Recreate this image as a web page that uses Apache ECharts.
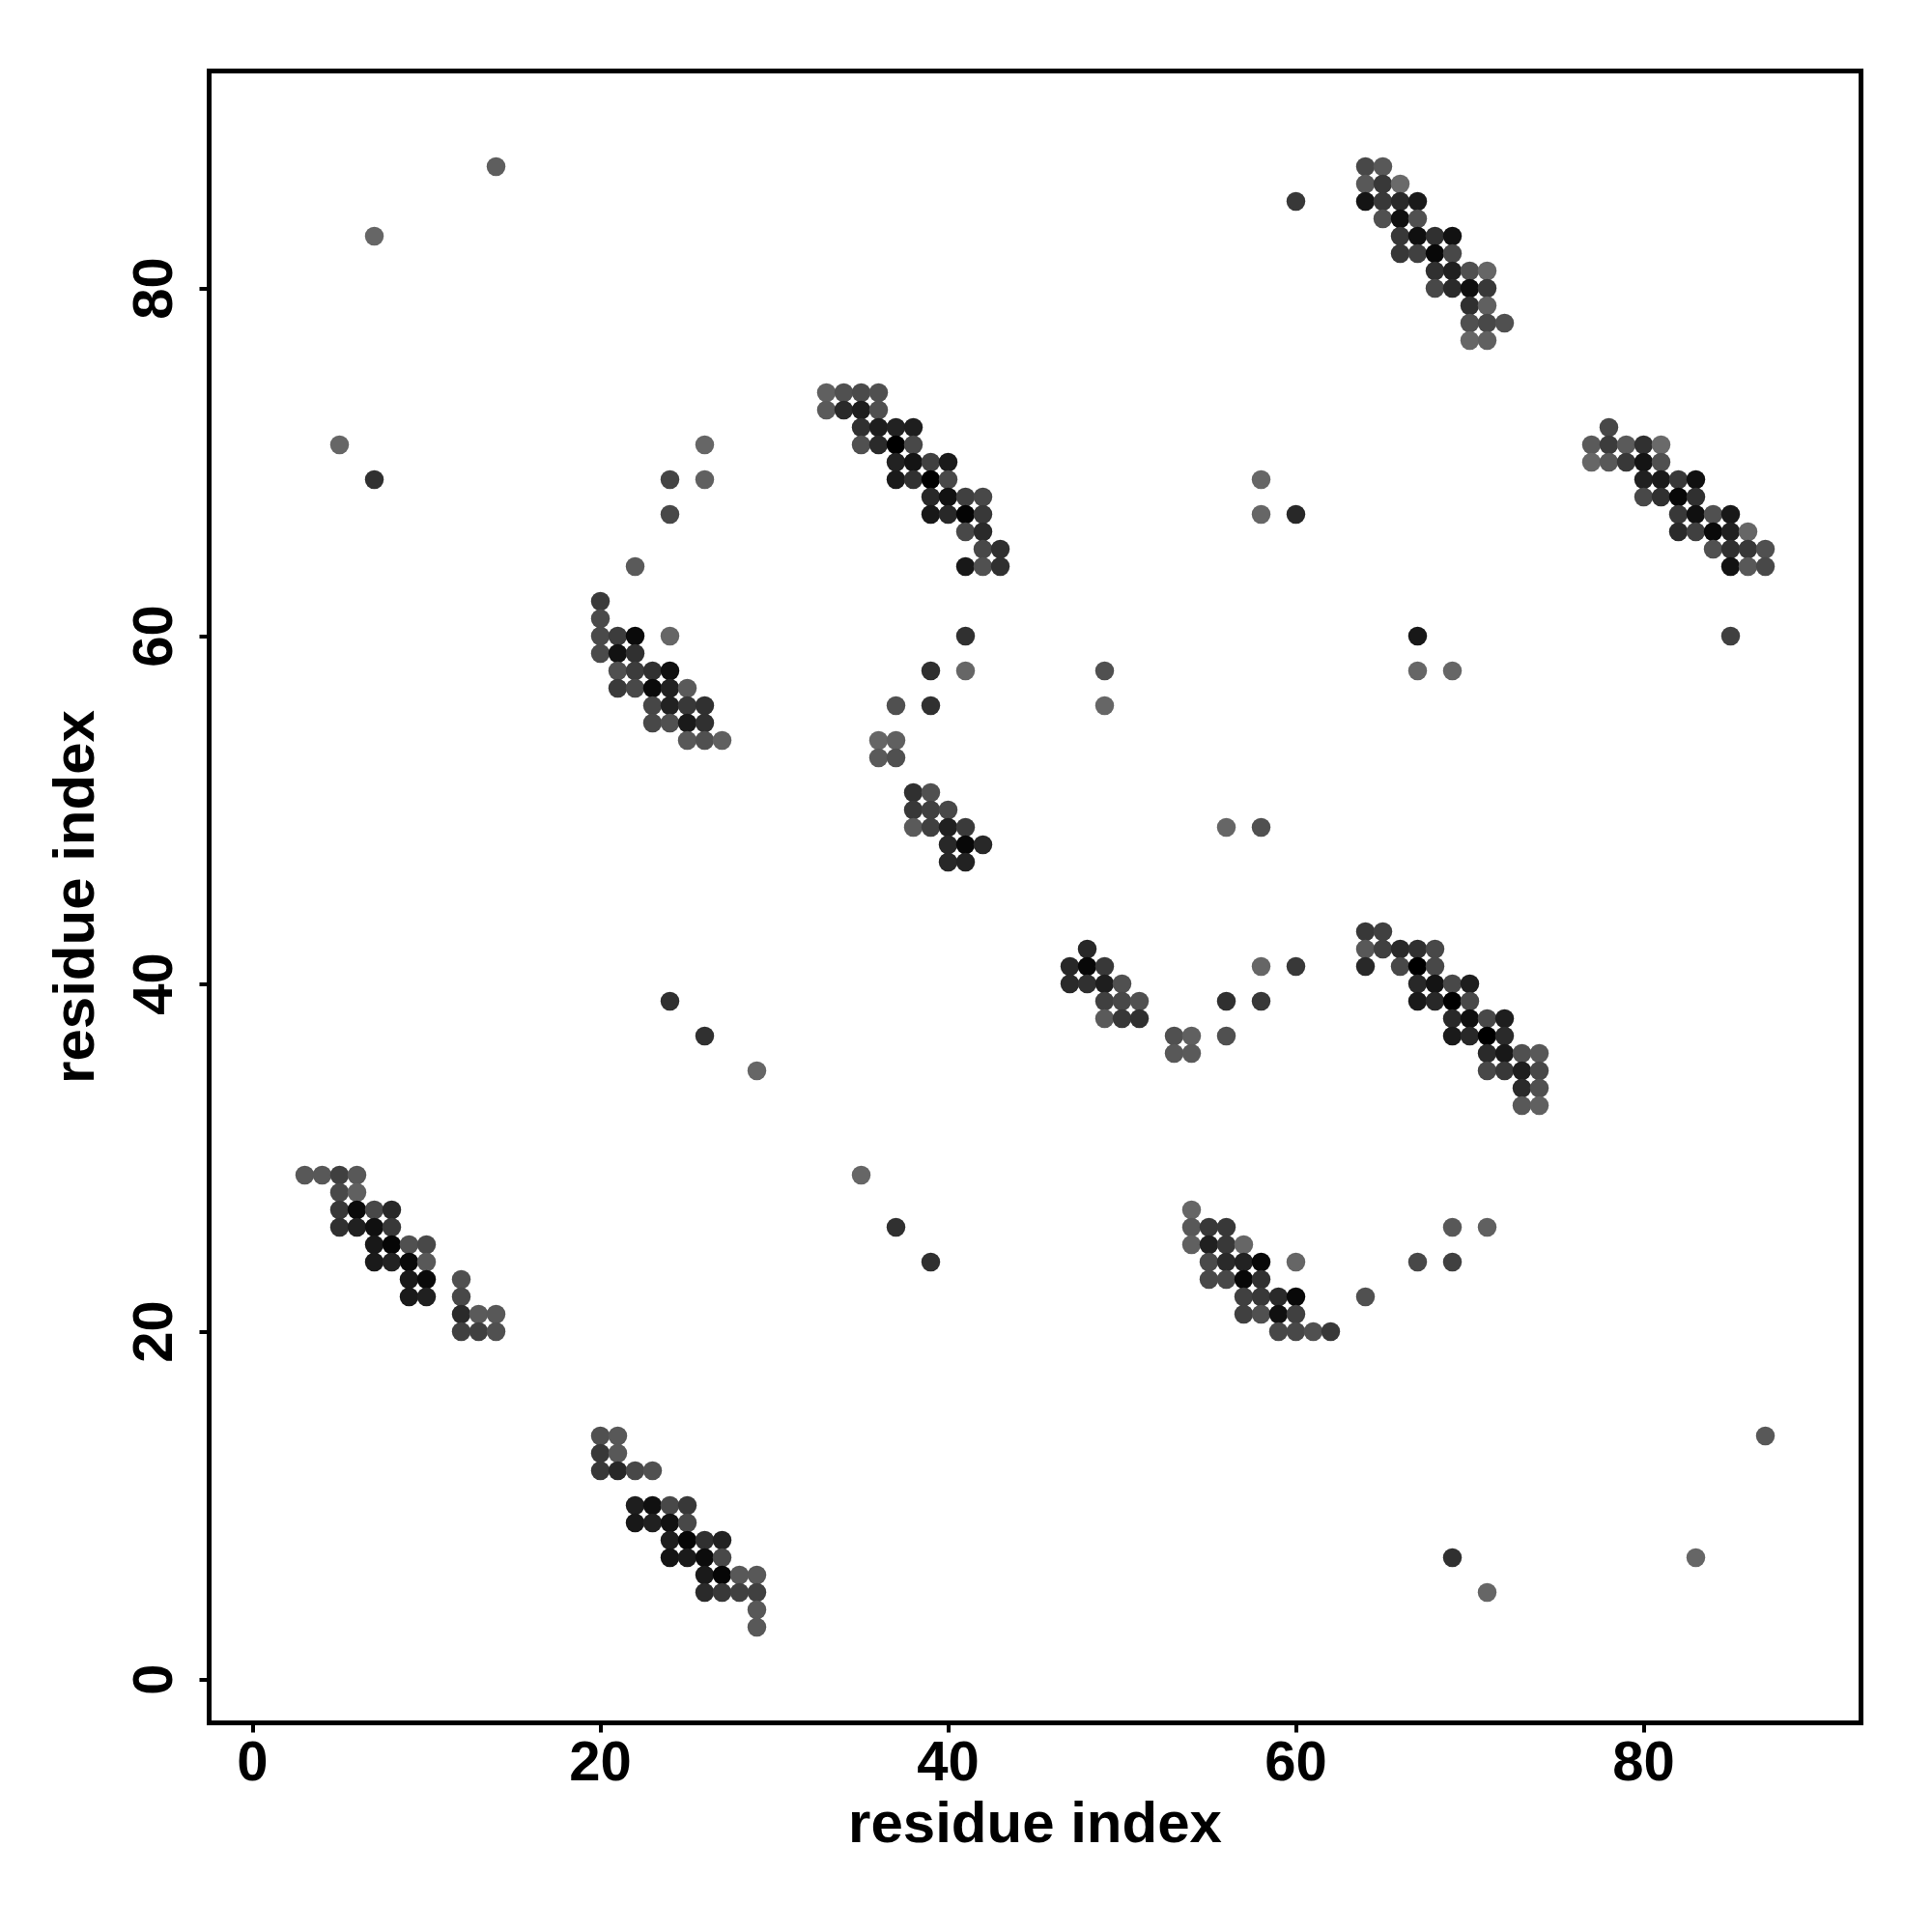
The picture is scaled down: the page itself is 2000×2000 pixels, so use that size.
<!DOCTYPE html>
<html>
<head>
<meta charset="utf-8">
<script src="https://cdn.jsdelivr.net/npm/echarts@6/dist/echarts.min.js"></script>
<style>html,body{margin:0;padding:0;background:#fff;}#c{width:2000px;height:2000px;}</style>
</head>
<body>
<div id="c"></div>
<script>
// Contacts: [residue i, residue j, grey level (0 = black)]
const tickValues = [0, 20, 40, 60, 80];

const clusterA = [
  [20,62,0x3a],[20,61,0x4a],[20,60,0x4a],[21,60,0x3c],[22,60,0x0a],[24,60,0x66],
  [20,59,0x4a],[21,59,0x12],[22,59,0x30],
  [21,58,0x50],[22,58,0x3c],[23,58,0x30],[24,58,0x10],
  [21,57,0x3a],[22,57,0x48],[23,57,0x0a],[24,57,0x22],[25,57,0x5a],
  [23,56,0x46],[24,56,0x22],[25,56,0x38],[26,56,0x30],
  [23,55,0x48],[24,55,0x50],[25,55,0x1a],[26,55,0x30],
  [25,54,0x58],[26,54,0x50],[27,54,0x60]
];
const clusterB = [
  [33,74,0x60],[34,74,0x50],[35,74,0x4a],[36,74,0x50],
  [33,73,0x5a],[34,73,0x2a],[35,73,0x1e],[36,73,0x50],
  [35,72,0x30],[36,72,0x1e],[37,72,0x22],[38,72,0x1e],
  [35,71,0x50],[36,71,0x2a],[37,71,0x00],[38,71,0x48],
  [37,70,0x22],[38,70,0x14],[39,70,0x40],[40,70,0x1a],
  [37,69,0x1a],[38,69,0x30],[39,69,0x00],[40,69,0x48],
  [39,68,0x28],[40,68,0x12],[41,68,0x40],[42,68,0x48],
  [39,67,0x18],[40,67,0x28],[41,67,0x04],[42,67,0x38],
  [41,66,0x48],[42,66,0x2a],
  [42,65,0x48],[43,65,0x30],
  [41,64,0x18],[42,64,0x50],[43,64,0x30]
];
const clusterC = [
  [64,87,0x48],[65,87,0x58],
  [64,86,0x58],[65,86,0x38],[66,86,0x6a],
  [64,85,0x14],[65,85,0x38],[66,85,0x28],[67,85,0x1a],
  [65,84,0x50],[66,84,0x10],[67,84,0x50],
  [66,83,0x38],[67,83,0x10],[68,83,0x30],[69,83,0x12],
  [66,82,0x38],[67,82,0x40],[68,82,0x08],[69,82,0x48],
  [68,81,0x30],[69,81,0x20],[70,81,0x50],[71,81,0x66],
  [68,80,0x48],[69,80,0x2a],[70,80,0x10],[71,80,0x38],
  [70,79,0x30],[71,79,0x60],
  [70,78,0x50],[71,78,0x48],[72,78,0x50],
  [70,77,0x66],[71,77,0x60]
];
const clusterD = [
  [78,72,0x48],
  [77,71,0x5a],[78,71,0x3c],[79,71,0x5a],[80,71,0x30],[81,71,0x6a],
  [77,70,0x66],[78,70,0x58],[79,70,0x38],[80,70,0x14],[81,70,0x50],
  [80,69,0x20],[81,69,0x1a],[82,69,0x38],[83,69,0x10],
  [80,68,0x48],[81,68,0x30],[82,68,0x08],[83,68,0x30],
  [82,67,0x38],[83,67,0x10],[84,67,0x50],[85,67,0x18],
  [82,66,0x2a],[83,66,0x40],[84,66,0x0a],[85,66,0x20],[86,66,0x66],
  [84,65,0x50],[85,65,0x30],[86,65,0x38],[87,65,0x50],
  [85,64,0x12],[86,64,0x58],[87,64,0x48]
];
const clusterE = [
  [36,54,0x66],[37,54,0x60],
  [36,53,0x5a],[37,53,0x50],
  [38,51,0x30],[39,51,0x50],
  [38,50,0x38],[39,50,0x40],[40,50,0x48],
  [38,49,0x5a],[39,49,0x40],[40,49,0x20],[41,49,0x3a],
  [40,48,0x28],[41,48,0x08],[42,48,0x28],
  [40,47,0x28],[41,47,0x22]
];
const clusterF = [
  [48,42,0x28],
  [47,41,0x28],[48,41,0x08],[49,41,0x38],
  [47,40,0x2a],[48,40,0x30],[49,40,0x1e],[50,40,0x50],
  [49,39,0x40],[50,39,0x48],[51,39,0x50],
  [49,38,0x5a],[50,38,0x38],[51,38,0x30],
  [53,37,0x50],[54,37,0x60],
  [53,36,0x58],[54,36,0x5a]
];
const clusterG = [
  [64,43,0x38],[65,43,0x40],
  [64,42,0x58],[65,42,0x40],[66,42,0x2a],[67,42,0x30],[68,42,0x48],
  [64,41,0x28],[66,41,0x48],[67,41,0x00],[68,41,0x48],
  [67,40,0x28],[68,40,0x14],[69,40,0x48],[70,40,0x1e],
  [67,39,0x1a],[68,39,0x28],[69,39,0x00],[70,39,0x48],
  [69,38,0x28],[70,38,0x10],[71,38,0x48],[72,38,0x1e],
  [69,37,0x1a],[70,37,0x28],[71,37,0x00],[72,37,0x2a],
  [71,36,0x2a],[72,36,0x18],[73,36,0x50],[74,36,0x58],
  [71,35,0x48],[72,35,0x38],[73,35,0x1e],[74,35,0x48],
  [73,34,0x2a],[74,34,0x50],
  [73,33,0x58],[74,33,0x60]
];
const clusterH = [
  [3,29,0x58],[4,29,0x58],[5,29,0x40],[6,29,0x58],
  [5,28,0x48],[6,28,0x60],
  [5,27,0x38],[6,27,0x0a],[7,27,0x48],[8,27,0x28],
  [5,26,0x30],[6,26,0x20],[7,26,0x10],[8,26,0x38],
  [7,25,0x18],[8,25,0x06],[9,25,0x50],[10,25,0x48],
  [7,24,0x1a],[8,24,0x22],[9,24,0x0a],[10,24,0x58],
  [9,23,0x1a],[10,23,0x0a],[12,23,0x50],
  [9,22,0x1a],[10,22,0x20],[12,22,0x48],
  [12,21,0x2a],[13,21,0x5a],[14,21,0x58],
  [12,20,0x40],[13,20,0x40],[14,20,0x50]
];
const clusterI = [
  [20,14,0x50],[21,14,0x58],
  [20,13,0x38],[21,13,0x58],
  [20,12,0x38],[21,12,0x28],[22,12,0x48],[23,12,0x50],
  [22,10,0x1e],[23,10,0x10],[24,10,0x48],[25,10,0x38],
  [22,9,0x18],[23,9,0x20],[24,9,0x12],[25,9,0x48],
  [24,8,0x1e],[25,8,0x06],[26,8,0x30],[27,8,0x22],
  [24,7,0x14],[25,7,0x1a],[26,7,0x0c],[27,7,0x48],
  [26,6,0x1a],[27,6,0x06],[28,6,0x58],[29,6,0x58],
  [26,5,0x2a],[27,5,0x38],[28,5,0x40],[29,5,0x40],
  [29,4,0x58],[29,3,0x58]
];
const clusterJ = [
  [54,27,0x66],
  [54,26,0x58],[55,26,0x38],[56,26,0x38],
  [54,25,0x60],[55,25,0x20],[56,25,0x38],[57,25,0x66],
  [55,24,0x4a],[56,24,0x2a],[57,24,0x22],[58,24,0x08],
  [55,23,0x48],[56,23,0x48],[57,23,0x08],[58,23,0x30],
  [57,22,0x40],[58,22,0x38],[59,22,0x2a],[60,22,0x08],
  [57,21,0x40],[58,21,0x50],[59,21,0x10],[60,21,0x40],
  [59,20,0x48],[60,20,0x48],[61,20,0x50],[62,20,0x38]
];
const singles = [
  [26,71,0x66],[24,69,0x44],[26,69,0x60],[24,67,0x48],[22,64,0x5a],
  [14,87,0x5e],[7,83,0x66],[5,71,0x66],[7,69,0x30],
  [41,60,0x30],[39,58,0x30],[41,58,0x66],[37,56,0x50],[39,56,0x30],[49,58,0x50],[49,56,0x66],
  [56,49,0x66],[58,49,0x50],[58,41,0x66],[60,41,0x38],[56,39,0x30],[58,39,0x38],[56,37,0x50],
  [60,85,0x38],[58,69,0x66],[58,67,0x66],[60,67,0x28],[67,60,0x18],[67,58,0x66],[69,58,0x66],[85,60,0x40],
  [24,39,0x30],[26,37,0x30],[29,35,0x66],[35,29,0x66],[37,26,0x30],[39,24,0x30],
  [69,26,0x58],[71,26,0x60],[60,24,0x66],[67,24,0x48],[69,24,0x40],[64,22,0x50],
  [87,14,0x58],[83,7,0x66],[69,7,0x30],[71,5,0x66]
];

const allPoints = [].concat(clusterA, clusterB, clusterC, clusterD, clusterE,
  clusterF, clusterG, clusterH, clusterI, clusterJ, singles);

const font = 'Liberation Sans, Arial, Helvetica, sans-serif';
const labelStyle = { fontSize: 58, fontWeight: 'bold', color: '#000', fontFamily: font };

function axis(isY) {
  return {
    type: 'value',
    min: -2.5,
    max: 92.5,
    name: 'residue index',
    nameLocation: 'middle',
    nameGap: isY ? 106 : 76,
    nameTextStyle: Object.assign({}, labelStyle, { fontSize: 60 }),
    axisLine: { show: false, onZero: false },
    splitLine: { show: false },
    axisTick: { show: true, customValues: tickValues, length: 10, inside: false,
      lineStyle: { color: '#000', width: 4 } },
    axisLabel: Object.assign({ customValues: tickValues, margin: isY ? 26 : 14,
      rotate: isY ? 90 : 0 }, labelStyle)
  };
}

const chart = echarts.init(document.getElementById('c'), null, { renderer: 'canvas' });
chart.setOption({
  backgroundColor: '#fff',
  animation: false,
  grid: { left: 216.5, top: 73.5, width: 1710, height: 1710, show: true,
    borderColor: '#000', borderWidth: 5, backgroundColor: 'transparent' },
  xAxis: axis(false),
  yAxis: axis(true),
  series: [{
    type: 'scatter',
    symbol: 'circle',
    symbolSize: 19.5,
    data: allPoints,
    itemStyle: {
      color: function (p) { const g = p.data[2]; return 'rgb(' + g + ',' + g + ',' + g + ')'; },
      opacity: 1
    }
  }]
});
</script>
</body>
</html>
